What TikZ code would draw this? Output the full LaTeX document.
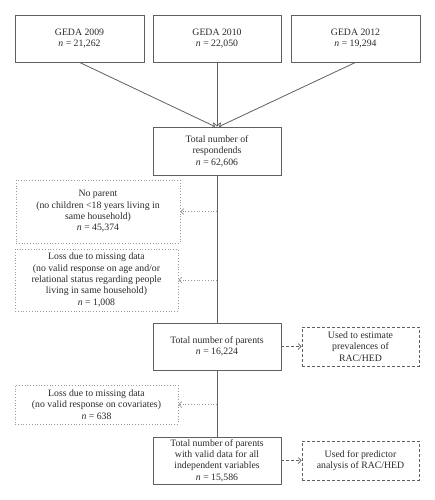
\documentclass[tikz,border=0pt]{standalone}
\usepackage{fontspec}
\setmainfont{Liberation Serif}
\usetikzlibrary{arrows.meta}
\definecolor{boxline}{HTML}{606060}
\definecolor{dotline}{HTML}{9A9A9A}
\definecolor{txt}{HTML}{2A2A2A}
\begin{document}
\begin{tikzpicture}[x=1bp,y=-1bp,
  every node/.style={font=\fontsize{9.8}{11.4}\selectfont, text=txt, align=center, inner sep=0pt},
  solidbox/.style={draw=boxline, line width=0.8bp, minimum width=128bp, minimum height=47bp},
  dotbox/.style={draw=dotline, line width=0.8bp, dotted, minimum width=163bp},
  dashbox/.style={draw=boxline, line width=0.8bp, dashed, dash pattern=on 3bp off 2bp, minimum width=117bp, minimum height=39bp},
  conn/.style={draw=boxline, line width=0.8bp},
  tip/.style={-{Straight Barb[length=3bp,width=6bp,line width=0.7bp]}},
  dotarrow/.style={conn, draw=dotline, dotted, tip},
  dasharrow/.style={conn, dashed, dash pattern=on 3bp off 2bp, tip}]
\useasboundingbox (0,0) rectangle (435,500);
\node[solidbox, minimum width=129bp] (g9) at (79.5,38.5) {GEDA 2009\\\textit{n} = 21,262};
\node[solidbox] (g10) at (217,38.5) {GEDA 2010\\\textit{n} = 22,050};
\node[solidbox, minimum width=129bp] (g12) at (355.5,38.5) {GEDA 2012\\\textit{n} = 19,294};
\node[solidbox, minimum height=48bp] (resp) at (217,151) {Total number of\\respondends\\\textit{n} = 62,606};
\node[dotbox, minimum width=164bp, minimum height=63bp] (nopar) at (98,211.5) {No parent\\(no children <18 years living in\\same household)\\\textit{n} = 45,374};
\node[dotbox, minimum height=62bp] (loss1) at (96.5,280) {Loss due to missing data\\(no valid response on age and/or\\relational status regarding people\\living in same household)\\\textit{n} = 1,008};
\node[solidbox] (par) at (217,346.5) {Total number of parents\\\textit{n} = 16,224};
\node[dashbox] (used1) at (360.5,346.5) {Used to estimate\\prevalences of\\RAC/HED};
\node[dotbox, minimum height=39bp] (loss2) at (96.5,404.5) {Loss due to missing data\\(no valid response on covariates)\\\textit{n} = 638};
\node[solidbox] (fin) at (217,460.5) {Total number of parents\\with valid data for all\\independent variables\\\textit{n} = 15,586};
\node[dashbox] (used2) at (360.5,460.5) {Used for predictor\\analysis of RAC/HED};
\coordinate (r1) at ([xshift=-2bp]resp.north);
\coordinate (r3) at ([xshift=2bp]resp.north);
\draw[conn, tip] (g9.south) -- (r1);
\draw[conn, tip] (g10.south) -- (resp.north);
\draw[conn, tip] (g12.south) -- (r3);
\draw[conn] (resp.south) -- (par.north);
\draw[conn] (par.south) -- (fin.north);
\coordinate (b1) at (resp.south |- nopar.east);
\coordinate (b2) at (resp.south |- loss1.east);
\coordinate (b3) at (par.south |- loss2.east);
\draw[dotarrow] (b1) -- (nopar.east);
\draw[dotarrow] (b2) -- (loss1.east);
\draw[dotarrow] (b3) -- (loss2.east);
\draw[dasharrow] (par.east) -- (used1.west);
\draw[dasharrow] (fin.east) -- (used2.west);
\end{tikzpicture}
\end{document}
